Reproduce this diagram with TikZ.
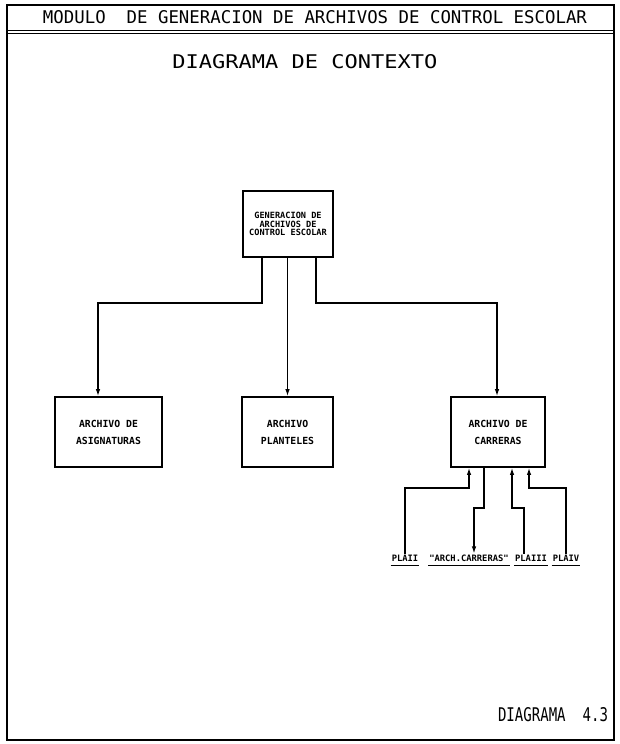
\documentclass[tikz,border=0pt]{standalone}
\usepackage{fontspec}
\setmonofont{DejaVu Sans Mono}
\usetikzlibrary{arrows.meta,calc,positioning}
\tikzset{
  flow/.style={-{Latex[length=7pt,width=4.5pt]},line width=1.2pt},
  procbox/.style={draw,line width=1.8pt,minimum width=90pt,minimum height=66pt,align=center,inner sep=2pt,font=\ttfamily\bfseries\fontsize{8.6}{8.8}\selectfont},
  filebox/.style={draw,line width=1.8pt,minimum height=70pt,align=center,inner sep=2pt,font=\ttfamily\bfseries\fontsize{9.8}{17}\selectfont},
  storelabel/.style={font=\ttfamily\bfseries\fontsize{8.8}{9}\selectfont,inner sep=1pt},
  heading/.style={inner sep=0pt}
}
\newcommand{\headtext}[3]{\resizebox{#1}{#2}{\ttfamily #3}}

\begin{document}
\begin{tikzpicture}[x=1pt,y=-1pt]
  \useasboundingbox (0,0) rectangle (620,744);
  % frame and title
  \draw[line width=2.4pt] (7,5) rectangle (614,740);
  \draw[line width=0.9pt] (7,30) -- (614,30);
  \draw[line width=0.9pt] (7,33.5) -- (614,33.5);
  \node[heading] (title) at (315,17) {\headtext{544pt}{13pt}{MODULO\ \ DE GENERACION DE ARCHIVOS DE CONTROL ESCOLAR}};
  \node[heading] (subtitle) at (305,62) {\headtext{265pt}{14pt}{DIAGRAMA DE CONTEXTO}};
  \node[heading] (number) at (553,715) {\headtext{110pt}{14pt}{DIAGRAMA\ \ 4.3}};
  % process and files
  \node[procbox] (gen) at (288,224) {GENERACION DE\\ARCHIVOS DE\\CONTROL ESCOLAR};
  \node[filebox,minimum width=107pt] (asig) at (108.5,432) {ARCHIVO DE\\ASIGNATURAS};
  \node[filebox,minimum width=91pt] (plant) at (287.5,432) {ARCHIVO\\PLANTELES};
  \node[filebox,minimum width=94pt] (carr) at (498,432) {ARCHIVO DE\\CARRERAS};
  \draw[flow] ([xshift=-26pt]gen.south) |- (98,303) -- (98,0 |- asig.north);
  \draw[flow] (gen.south -| plant.north) -- (plant.north);
  \draw[flow] ([xshift=28pt]gen.south) |- (497,303) -- (497,0 |- carr.north);
  % stores below
  \node[storelabel] (pla2) at (405,558) {PLAII};
  \node[storelabel] (arch) at (469,558) {"ARCH.CARRERAS"};
  \node[storelabel] (pla3) at (531,558) {PLAIII};
  \node[storelabel] (pla4) at (566,558) {PLAIV};
  \foreach \n in {pla2,arch,pla3,pla4}
    \draw[line width=1.3pt] ([yshift=-3pt]\n.south west) -- ([yshift=-3pt]\n.south east);
  \draw[flow] (pla2.north) |- (469,488) -- (469,0 |- carr.south);
  \draw[flow] (484,0 |- carr.south) |- (474,508) -- (arch.north -| 474,0);
  \draw[flow] (pla3.north -| 524,0) |- (512,508) -- (512,0 |- carr.south);
  \draw[flow] (pla4.north) |- (529,488) -- (529,0 |- carr.south);
\end{tikzpicture}
\end{document}
